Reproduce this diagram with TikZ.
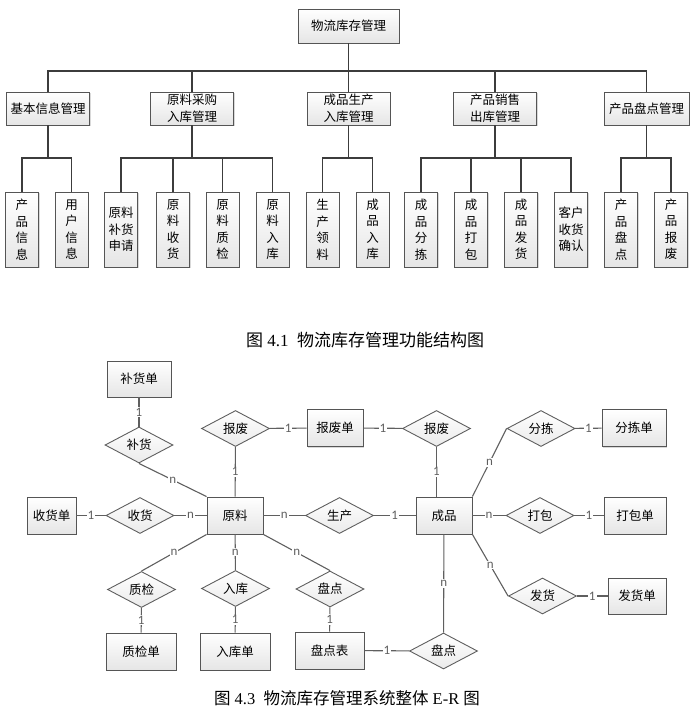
\documentclass[tikz,border=0pt]{standalone}
\usepackage{fontspec}
\setmainfont{Liberation Serif}
\newfontfamily\cjk{Noto Sans CJK SC}
\newfontfamily\kart{Carlito}
\usepackage{tikz}
\usetikzlibrary{shapes.geometric,shadows}
\definecolor{rahmen}{RGB}{85,85,85}
\definecolor{baum}{RGB}{60,60,60}
\definecolor{erlinie}{RGB}{95,95,95}
\tikzset{
  modul/.style={draw=rahmen, line width=0.9pt, top color=white, bottom color=black!10,
    drop shadow={shadow xshift=1.2pt, shadow yshift=-1.2pt, opacity=0.3},
    font=\cjk\fontsize{12.5}{16.5}\selectfont, align=center, inner sep=0pt,
    minimum width=83pt, minimum height=33pt},
  blatt/.style={modul, minimum width=33pt, minimum height=75pt},
  shiti/.style={modul, minimum width=56pt, minimum height=37pt},
  lianxi/.style={diamond, draw=erlinie, line width=0.9pt, top color=white, bottom color=black!8,
    font=\cjk\fontsize{12.5}{14}\selectfont, inner sep=0pt, aspect=1.9,
    minimum width=68pt, minimum height=36pt},
  card/.style={fill=white, inner sep=1pt, font=\kart\fontsize{13}{13}\selectfont},
}
\begin{document}
\begin{tikzpicture}[x=1pt, y=-1pt, line width=1.1pt]
    \useasboundingbox (0,0) rectangle (693,715);
    \node[modul, minimum width=101pt, minimum height=34pt] (wl) at (348.5,26){物流库存管理};
    \node[modul] (jb) at (48,108.5){基本信息管理};
    \node[modul] (yl) at (192,108.5){原料采购\\入库管理};
    \node[modul] (cp) at (348.5,108.5){成品生产\\入库管理};
    \node[modul] (xs) at (495,108.5){产品销售\\出库管理};
    \node[modul, minimum width=85pt] (pd) at (646.5,108.5){产品盘点管理};
    \draw[baum] (wl.south) -- (wl.south |- 0,71);
    \draw[baum] (jb.north) |- (pd.north |- 0,71) -- (pd.north);
    \draw[baum] (yl.north) -- (yl.north |- 0,71);
    \draw[baum] (cp.north) -- (cp.north |- 0,71);
    \draw[baum] (xs.north) -- (xs.north |- 0,71);
    \node[blatt] (a1) at (22,229.5){产\\品\\信\\息};
    \node[blatt] (a2) at (71.5,229.5){用\\户\\信\\息};
    \node[blatt] (b1) at (121,229.5){原料\\补货\\申请};
    \node[blatt] (b2) at (173,229.5){原\\料\\收\\货};
    \node[blatt] (b3) at (222.5,229.5){原\\料\\质\\检};
    \node[blatt] (b4) at (272.5,229.5){原\\料\\入\\库};
    \node[blatt] (c1) at (322.5,229.5){生\\产\\领\\料};
    \node[blatt] (c2) at (372.5,229.5){成\\品\\入\\库};
    \node[blatt] (d1) at (421,229.5){成\\品\\分\\拣};
    \node[blatt] (d2) at (471,229.5){成\\品\\打\\包};
    \node[blatt] (d3) at (521,229.5){成\\品\\发\\货};
    \node[blatt] (d4) at (571,229.5){客户\\收货\\确认};
    \node[blatt] (e1) at (621,229.5){产\\品\\盘\\点};
    \node[blatt] (e2) at (671,229.5){产\\品\\报\\废};
    \draw[baum] (jb.south) -- (jb.south |- 0,158);
    \draw[baum] (a1.north) |- (a2.north |- 0,158) -- (a2.north);
    \draw[baum] (yl.south) -- (yl.south |- 0,158);
    \draw[baum] (b1.north) |- (b4.north |- 0,158) -- (b4.north);
    \draw[baum] (b2.north) -- (b2.north |- 0,158);
    \draw[baum] (b3.north) -- (b3.north |- 0,158);
    \draw[baum] (cp.south) -- (cp.south |- 0,158);
    \draw[baum] (c1.north) |- (c2.north |- 0,158) -- (c2.north);
    \draw[baum] (xs.south) -- (xs.south |- 0,158);
    \draw[baum] (d1.north) |- (d4.north |- 0,158) -- (d4.north);
    \draw[baum] (d2.north) -- (d2.north |- 0,158);
    \draw[baum] (d3.north) -- (d3.north |- 0,158);
    \draw[baum] (pd.south) -- (pd.south |- 0,158);
    \draw[baum] (e1.north) |- (e2.north |- 0,158) -- (e2.north);
    \node[font=\fontsize{17}{20}\selectfont] (tu1) at (365,340){{\cjk 图} 4.1\ \ {\cjk 物流库存管理功能结构图}};
    \node[shiti, minimum width=64pt, minimum height=36pt] (bhd) at (139,379){补货单};
    \node[shiti] (bfd) at (335,428){报废单};
    \node[shiti, minimum width=64pt] (fjd) at (634,428){分拣单};
    \node[shiti, minimum width=49pt] (shd) at (51.5,515.5){收货单};
    \node[shiti] (ylr) at (235,515.5){原料};
    \node[shiti] (cpr) at (444,515.5){成品};
    \node[shiti, minimum width=62pt] (dbd) at (635,515.5){打包单};
    \node[shiti, minimum width=58pt, minimum height=36pt] (fhd) at (637,596){发货单};
    \node[shiti, minimum width=70pt] (zjd) at (141,651.5){质检单};
    \node[shiti, minimum width=70pt] (rkd) at (235,651.5){入库单};
    \node[shiti, minimum width=69pt] (pdb) at (329.5,650.5){盘点表};
    \node[lianxi] (bh) at (139,445){补货};
    \node[lianxi] (bf1) at (235.5,428.5){报废};
    \node[lianxi] (bf2) at (436.5,428.5){报废};
    \node[lianxi] (fj) at (541,428.5){分拣};
    \node[lianxi] (sh) at (140,515.5){收货};
    \node[lianxi] (sc) at (339.5,515.5){生产};
    \node[lianxi] (db) at (540,515.5){打包};
    \node[lianxi] (fh) at (542.5,596){发货};
    \node[lianxi] (zj) at (141.5,589.5){质检};
    \node[lianxi] (rk) at (235.5,588.5){入库};
    \node[lianxi] (pd1) at (330,589){盘点};
    \node[lianxi] (pd2) at (443.5,651){盘点};
    \draw[erlinie] (bhd) -- node[card]{1} (bh);
    \draw[erlinie] (bh.south) -- node[card]{n} (ylr.north west);
    \draw[erlinie] (bf1) -- node[card]{1} (bfd);
    \draw[erlinie] (bf1) -- node[card]{1} (ylr);
    \draw[erlinie] (bfd) -- node[card]{1} (bf2);
    \draw[erlinie] (bf2.south) -- node[card]{1} (bf2.south |- cpr.north);
    \draw[erlinie] (fj.west) -- node[card]{n} (cpr.north east);
    \draw[erlinie] (fj) -- node[card]{1} (fjd);
    \draw[erlinie] (shd) -- node[card]{1} (sh);
    \draw[erlinie] (sh) -- node[card]{n} (ylr);
    \draw[erlinie] (ylr) -- node[card]{n} (sc);
    \draw[erlinie] (sc) -- node[card]{1} (cpr);
    \draw[erlinie] (cpr) -- node[card]{n} (db);
    \draw[erlinie] (db) -- node[card]{1} (dbd);
    \draw[erlinie] (cpr.south east) -- node[card]{n} (fh.west);
    \draw[erlinie] (fh) -- node[card]{1} (fhd);
    \draw[erlinie] (ylr.south west) -- node[card]{n} (zj.north);
    \draw[erlinie] (ylr) -- node[card]{n} (rk);
    \draw[erlinie] (ylr.south east) -- node[card]{n} (pd1.north);
    \draw[erlinie] (zj) -- node[card]{1} (zjd);
    \draw[erlinie] (rk) -- node[card]{1} (rkd);
    \draw[erlinie] (pd1) -- node[card]{1} (pdb);
    \draw[erlinie] (pdb) -- node[card]{1} (pd2);
    \draw[erlinie] (cpr) -- node[card]{n} (pd2);
    \node[font=\fontsize{16.5}{20}\selectfont] (tu3) at (347,698){{\cjk 图} 4.3\ \ {\cjk 物流库存管理系统整体} E-R {\cjk 图}};
\end{tikzpicture}
\end{document}
